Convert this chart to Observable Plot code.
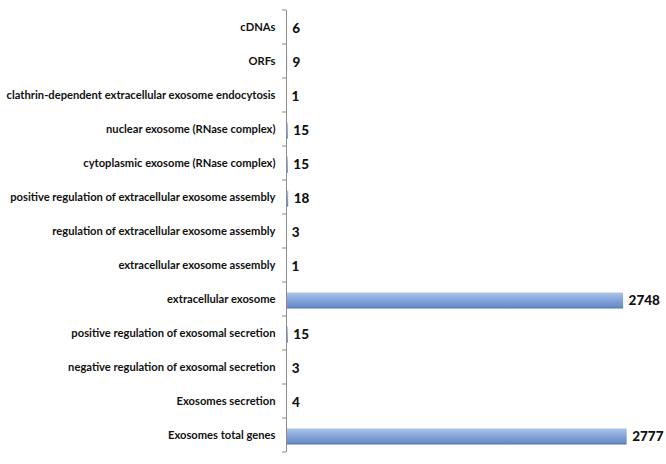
<!DOCTYPE html>
<html>
<head>
<meta charset="utf-8">
<script src="https://cdn.jsdelivr.net/npm/d3@7"></script>
<script src="https://cdn.jsdelivr.net/npm/@observablehq/plot@0.6"></script>
<style>
  html, body { margin: 0; padding: 0; background: #fff; }
  #chart svg { display: block; }
</style>
</head>
<body>
<div id="chart"></div>
<script>
const categories = [
  "cDNAs",
  "ORFs",
  "clathrin-dependent extracellular exosome endocytosis",
  "nuclear exosome (RNase complex)",
  "cytoplasmic exosome (RNase complex)",
  "positive regulation of extracellular exosome assembly",
  "regulation of extracellular exosome assembly",
  "extracellular exosome assembly",
  "extracellular exosome",
  "positive regulation of exosomal secretion",
  "negative regulation of exosomal secretion",
  "Exosomes secretion",
  "Exosomes total genes"
];
const counts = [6, 9, 1, 15, 15, 18, 3, 1, 2748, 15, 3, 4, 2777];

const data = categories.map((name, i) => ({name, value: counts[i]}));

const plot = Plot.plot({
  width: 666,
  height: 464,
  marginLeft: 286,
  marginRight: 12,
  marginTop: 10,
  marginBottom: 12,
  style: {fontFamily: "Lato, 'Open Sans', sans-serif", background: "#fff"},
  x: {domain: [0, 3000], axis: null},
  y: {domain: categories, paddingInner: 0.54, paddingOuter: 0.27, label: null},
  marks: [
    () => {
      const svg = d3.create("svg:defs");
      const g = svg.append("linearGradient").attr("id", "barGrad")
        .attr("x1", 0).attr("y1", 0).attr("x2", 0).attr("y2", 1);
      g.append("stop").attr("offset", "0%").attr("stop-color", "#adc4e8");
      g.append("stop").attr("offset", "40%").attr("stop-color", "#89a9dc");
      g.append("stop").attr("offset", "85%").attr("stop-color", "#6c90cb");
      g.append("stop").attr("offset", "100%").attr("stop-color", "#5375b0");
      return svg.node();
    },
    Plot.barX(data, {x: "value", y: "name", fill: "url(#barGrad)", dy: 1.5}),
    Plot.ruleX([0], {stroke: "#8c8c8c", strokeWidth: 1}),
    Plot.axisY({
      tickSize: 0,
      tickPadding: 11,
      fontSize: 11.2,
      fontWeight: "bold",
      fill: "#111"
    }),
    Plot.text(data, {
      x: "value", y: "name", text: d => String(d.value),
      dx: 5, dy: 1, textAnchor: "start",
      fontSize: 13.5, fontWeight: "900", fill: "#111"
    })
  ]
});

// boundary tick marks on the category axis, placed with Plot's own y scale
const y = plot.scale("y");
const x = plot.scale("x");
const svgSel = d3.select(plot);
const step = y.step;
const x0 = x.apply(0);
const half = (step - y.bandwidth) / 2;
const boundaries = categories.map(c => y.apply(c) - half);
boundaries.push(y.apply(categories[categories.length - 1]) + y.bandwidth + half);
svgSel.append("g")
  .attr("stroke", "#8c8c8c")
  .selectAll("line")
  .data(boundaries)
  .join("line")
  .attr("x1", x0 - 4).attr("x2", x0)
  .attr("y1", d => d).attr("y2", d => d);

document.getElementById("chart").appendChild(plot);
</script>
</body>
</html>
